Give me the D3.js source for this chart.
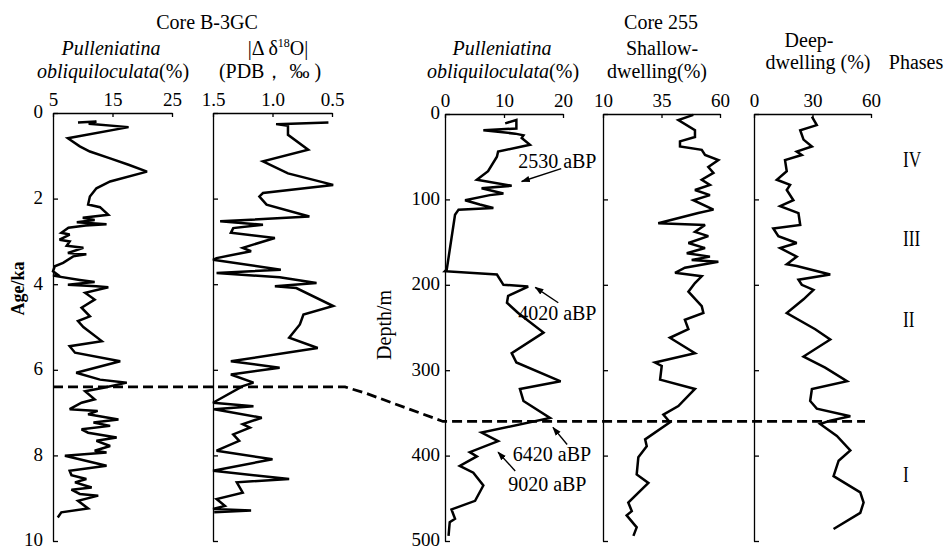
<!DOCTYPE html>
<html>
<head>
<meta charset="utf-8">
<script src="https://cdn.jsdelivr.net/npm/d3@7"></script>
<style>
    body { margin: 0; background: #fff; }
    svg { display: block; }
    text { font-family: 'Liberation Serif', 'Times New Roman', serif; fill: #000; }
</style>
</head>
<body>
<svg id="chart"></svg>
<script>
// Core B-3GC, Pulleniatina obliquiloculata (%) vs age (ka)
const b3PullAge = [0.22, 0.20, 0.25, 0.33, 0.59, 0.78, 0.90, 1.06, 1.21, 1.37, 1.60, 1.76, 1.95, 2.14, 2.20, 2.38, 2.45, 2.50, 2.55, 2.60, 2.63, 2.68, 2.80, 2.84, 2.96, 3.00, 3.10, 3.15, 3.27, 3.30, 3.35, 3.50, 3.58, 3.70, 3.78, 3.80, 3.90, 3.95, 4.01, 4.05, 4.07, 4.20, 4.36, 4.55, 4.75, 4.86, 5.00, 5.33, 5.45, 5.60, 5.80, 6.07, 6.23, 6.30, 6.42, 6.50, 6.69, 6.77, 6.92, 6.96, 7.04, 7.16, 7.23, 7.31, 7.39, 7.47, 7.58, 7.66, 7.78, 7.89, 7.93, 8.01, 8.24, 8.36, 8.46, 8.55, 8.63, 8.75, 8.80, 8.90, 8.94, 9.06, 9.24, 9.33, 9.45]
const b3Pull = [9.2, 12.3, 11.0, 17.7, 7.5, 9.5, 11.2, 14.6, 17.7, 20.8, 14.6, 12.3, 11.2, 10.9, 12.9, 14.3, 10.0, 12.0, 9.0, 14.0, 10.5, 7.6, 6.4, 7.8, 6.1, 7.8, 7.3, 10.1, 7.5, 10.6, 8.4, 6.7, 5.3, 5.0, 5.8, 5.0, 9.5, 12.0, 7.5, 12.3, 14.3, 10.4, 12.0, 9.8, 11.2, 9.2, 10.1, 13.2, 7.8, 8.7, 16.3, 8.9, 12.9, 17.4, 13.5, 10.4, 12.0, 9.8, 7.8, 12.5, 10.9, 16.0, 11.8, 14.6, 9.8, 10.9, 15.7, 12.3, 14.6, 12.0, 14.0, 7.0, 14.0, 7.8, 8.1, 10.6, 8.7, 11.5, 8.1, 9.5, 12.6, 9.2, 10.9, 6.4, 5.8]

// Core B-3GC, |Δδ18O| (PDB, ‰) vs age (ka)
const b3IsoAge = [0.22, 0.26, 0.30, 0.51, 0.86, 1.13, 1.41, 1.68, 1.87, 1.95, 2.14, 2.42, 2.53, 2.61, 2.69, 2.80, 2.92, 3.15, 3.23, 3.39, 3.43, 3.66, 3.74, 3.84, 3.97, 4.05, 4.09, 4.51, 4.71, 4.94, 5.25, 5.49, 5.80, 5.95, 6.11, 6.30, 6.38, 6.77, 6.85, 6.92, 7.12, 7.27, 7.35, 7.51, 7.66, 7.89, 8.09, 8.36, 8.55, 8.63, 8.87, 9.02, 9.18, 9.25, 9.29, 9.33]
const b3Iso = [0.53, 0.97, 0.87, 0.87, 0.70, 1.08, 0.87, 0.49, 1.08, 1.11, 1.05, 0.69, 1.44, 1.08, 1.33, 1.35, 0.98, 1.25, 1.18, 1.47, 1.50, 0.93, 1.47, 0.94, 0.63, 0.98, 0.80, 0.49, 0.74, 0.77, 0.86, 0.62, 1.35, 0.94, 1.35, 1.16, 1.25, 1.50, 1.16, 1.49, 1.09, 1.25, 1.19, 1.33, 1.28, 1.47, 1.00, 1.50, 0.86, 1.30, 1.25, 1.47, 1.40, 1.50, 1.18, 1.49]

// Core 255, Pulleniatina obliquiloculata (%) vs depth
const c255PullDepth = [11, 7, 17, 19, 23, 25, 28, 36, 44, 50, 67, 77, 84, 87, 93, 95, 101, 106, 110, 112, 118, 182, 184, 188, 200, 202, 213, 221, 233, 256, 280, 291, 313, 322, 336, 356, 373, 383, 396, 401, 412, 420, 435, 453, 463, 474, 478, 494]
const c255Pull = [10.2, 12.1, 12.1, 6.5, 11.9, 13.3, 13.0, 14.4, 9.0, 8.8, 7.3, 5.4, 11.3, 6.2, 9.9, 7.6, 3.4, 5.9, 8.2, 2.3, 1.7, 0.3, 0.0, 8.8, 9.9, 14.1, 10.7, 10.5, 12.4, 16.7, 11.3, 12.1, 19.6, 12.7, 13.3, 17.8, 6.2, 9.0, 4.2, 5.4, 2.5, 4.8, 6.5, 5.1, 1.1, 1.7, 0.8, 0.6]

// Core 255, shallow-dwelling (%) vs depth
const shallowDepth = [1, 7, 19, 27, 32, 38, 42, 48, 54, 62, 69, 77, 83, 89, 95, 101, 112, 116, 128, 130, 138, 143, 151, 157, 163, 167, 171, 173, 180, 186, 190, 198, 208, 225, 233, 241, 252, 262, 280, 291, 295, 311, 322, 342, 352, 361, 381, 389, 402, 422, 432, 455, 465, 470, 484, 494]
const shallow = [48.6, 42.2, 49.3, 49.3, 42.9, 42.9, 52.2, 53.6, 59.3, 55.0, 57.2, 52.2, 55.7, 49.3, 55.7, 48.6, 57.2, 50.7, 33.6, 53.6, 49.3, 55.0, 46.5, 53.6, 45.8, 55.7, 47.9, 59.3, 45.0, 40.8, 52.2, 49.3, 46.5, 52.2, 52.9, 45.0, 46.5, 38.6, 49.3, 32.2, 35.1, 34.4, 49.3, 42.2, 35.8, 38.6, 28.0, 28.7, 25.1, 24.4, 29.4, 20.8, 22.3, 20.1, 24.4, 23.0]

// Core 255, deep-dwelling (%) vs depth
const deepDepth = [3, 13, 19, 30, 38, 44, 48, 54, 67, 77, 83, 89, 101, 108, 116, 130, 134, 143, 151, 157, 167, 176, 178, 188, 194, 200, 206, 217, 233, 252, 264, 284, 297, 313, 322, 336, 345, 354, 359, 363, 377, 394, 406, 424, 443, 455, 467, 486]
const deep = [29.7, 32.2, 23.7, 25.4, 29.7, 21.9, 24.5, 15.9, 16.8, 11.7, 18.5, 16.8, 20.2, 13.4, 22.8, 23.7, 9.9, 12.5, 21.9, 13.4, 21.9, 16.8, 21.9, 39.1, 22.8, 24.5, 30.5, 25.4, 16.8, 31.4, 39.1, 25.4, 36.5, 47.7, 29.7, 28.8, 32.2, 49.4, 39.1, 33.9, 42.5, 49.4, 43.4, 40.8, 54.5, 56.2, 54.5, 40.8]

// tick labels
const ageTicks = [0, 2, 4, 6, 8, 10]
const depthTicks = [0, 100, 200, 300, 400, 500]
const b3PullTicks = [5, 15, 25]
const b3IsoTicks = [1.5, 1.0, 0.5]
const c255PullTicks = [0, 10, 20]
const shallowTicks = [10, 35, 60]
const deepTicks = [0, 30, 60]

// correlation level (6420 aBP) and dated levels in core 255
const tieAge = 6.4
const tieDepth = 360
const dateLabels = ['2530 aBP', '4020 aBP', '6420 aBP', '9020 aBP']
const dateText = [[12.4, 63], [12.4, 241], [11.5, 406], [10.7, 442]]
const dateArrowFrom = [[19.7, 64], [19.2, 221], [20.7, 387], [11.9, 418]]
const dateArrowTo = [[13.0, 79], [15.3, 203], [18.3, 367], [9.0, 396]]

const phaseLabels = ['IV', 'III', 'II', 'I']
const phaseDepth = [62, 154, 249, 431]

const W = 944
const H = 551
const SERIF = "'Liberation Serif', 'Times New Roman', serif"

const svg = d3.select('#chart')
    .attr('width', W)
    .attr('height', H)
    .attr('viewBox', `0 0 ${W} ${H}`)

svg.append('defs').append('marker')
    .attr('id', 'arrow')
    .attr('viewBox', '0 0 10 10')
    .attr('refX', 9).attr('refY', 5)
    .attr('markerWidth', 9).attr('markerHeight', 9)
    .attr('markerUnits', 'userSpaceOnUse')
    .attr('orient', 'auto')
    .append('path')
    .attr('d', 'M0,1.5L10,5L0,8.5Z')
    .attr('fill', '#000')

// scales
const ageY = d3.scaleLinear().domain([0, 10]).range([113, 541])
const depthY = d3.scaleLinear().domain([0, 500]).range([114, 541])
const xB3Pull = d3.scaleLinear().domain([5, 25]).range([53, 172])
const xB3Iso = d3.scaleLinear().domain([1.5, 0.5]).range([213, 332])
const x255Pull = d3.scaleLinear().domain([0, 20]).range([445, 563])
const xShallow = d3.scaleLinear().domain([10, 60]).range([603, 720])
const xDeep = d3.scaleLinear().domain([0, 60]).range([754, 871])

function styleAxis(g) {
    g.attr('font-family', SERIF).attr('font-size', 19)
    g.selectAll('path, line').attr('stroke', '#000').attr('stroke-width', 1.3)
    g.selectAll('text').attr('fill', '#000')
}

function panel(x, y, xTicks, xFormat, yTicks, yLabels, yPad) {
    svg.append('g')
        .attr('transform', `translate(0,${y.range()[0]})`)
        .call(d3.axisTop(x).tickValues(xTicks).tickFormat(d3.format(xFormat))
            .tickSizeInner(-4).tickSizeOuter(0).tickPadding(7))
        .call(styleAxis)

    const yAxis = d3.axisLeft(y).tickValues(yTicks).tickSizeInner(-5).tickSizeOuter(0).tickPadding(yPad)
    if (!yLabels) yAxis.tickFormat('')
    svg.append('g')
        .attr('transform', `translate(${x.range()[0]},0)`)
        .call(yAxis)
        .call(styleAxis)
        .call(g => g.selectAll('text').attr('dy', '0.26em'))
}

panel(xB3Pull, ageY, b3PullTicks, 'd', ageTicks, true, 10)
panel(xB3Iso, ageY, b3IsoTicks, '.1f', ageTicks, false, 8)
panel(x255Pull, depthY, c255PullTicks, 'd', depthTicks, true, 5)
panel(xShallow, depthY, shallowTicks, 'd', depthTicks, false, 5)
panel(xDeep, depthY, deepTicks, 'd', depthTicks, false, 5)

function curve(x, y, ys, xs) {
    const pts = ys.map((v, i) => [xs[i], v])
    svg.append('path')
        .datum(pts)
        .attr('fill', 'none')
        .attr('stroke', '#000')
        .attr('stroke-width', 2.5)
        .attr('stroke-linejoin', 'miter')
        .attr('stroke-miterlimit', 3)
        .attr('d', d3.line().x(d => x(d[0])).y(d => y(d[1])))
}

curve(xB3Pull, ageY, b3PullAge, b3Pull)
curve(xB3Iso, ageY, b3IsoAge, b3Iso)
curve(x255Pull, depthY, c255PullDepth, c255Pull)
curve(xShallow, depthY, shallowDepth, shallow)
curve(xDeep, depthY, deepDepth, deep)

// dashed correlation line
const tieLeft = ageY(tieAge)
const tieRight = depthY(tieDepth)
const slantStart = xB3Iso.range()[1] + 13
const slantEnd = x255Pull.range()[0] - 2
svg.append('path')
    .datum([
        [xB3Pull.range()[0], tieLeft],
        [slantStart, tieLeft],
        [slantStart + 20, tieLeft + 6],
        [slantEnd, tieRight],
        [xDeep.range()[1] - 6, tieRight]
    ])
    .attr('fill', 'none')
    .attr('stroke', '#000')
    .attr('stroke-width', 2.8)
    .attr('stroke-dasharray', '10,5')
    .attr('d', d3.line())

// date annotations
dateLabels.forEach((label, i) => {
    svg.append('text')
        .attr('x', x255Pull(dateText[i][0]))
        .attr('y', depthY(dateText[i][1]))
        .attr('font-size', 20)
        .text(label)
    svg.append('line')
        .attr('x1', x255Pull(dateArrowFrom[i][0]))
        .attr('y1', depthY(dateArrowFrom[i][1]))
        .attr('x2', x255Pull(dateArrowTo[i][0]))
        .attr('y2', depthY(dateArrowTo[i][1]))
        .attr('stroke', '#000')
        .attr('stroke-width', 1.4)
        .attr('marker-end', 'url(#arrow)')
})

// phases
phaseLabels.forEach((label, i) => {
    svg.append('text')
        .attr('transform', `translate(903,${depthY(phaseDepth[i])}) scale(0.75,1)`)
        .attr('font-size', 23)
        .text(label)
})

// headers
const header = (x, y, txt, opts = {}) => {
    const t = svg.append('text')
        .attr('x', x).attr('y', y)
        .attr('text-anchor', opts.anchor || 'middle')
        .attr('font-size', opts.size || 20)
    if (opts.italic) t.attr('font-style', 'italic')
    if (txt) t.text(txt)
    return t
}

header(207, 29, 'Core B-3GC')
header(111, 55, 'Pulleniatina', { italic: true })
const ob1 = header(113, 78, null)
ob1.append('tspan').attr('font-style', 'italic').text('obliquiloculata')
ob1.append('tspan').text('(%)')

const iso = header(278, 55, null)
iso.append('tspan').text('|Δ δ')
iso.append('tspan').attr('font-size', 12).attr('dy', -8).text('18')
iso.append('tspan').attr('dy', 8).text('O|')
header(270, 78, '(PDB， ‰ )')

header(502, 55, 'Pulleniatina', { italic: true })
const ob2 = header(503, 78, null)
ob2.append('tspan').attr('font-style', 'italic').text('obliquiloculata')
ob2.append('tspan').text('(%)')

header(661, 29, 'Core 255')
header(662, 55, 'Shallow-')
header(657, 78, 'dwelling(%)')
header(809, 47, 'Deep-')
header(818, 69, 'dwelling (%)')
header(916, 69, 'Phases')

// y-axis titles
svg.append('text')
    .attr('transform', `translate(24,${ageY(4.1)}) rotate(-90)`)
    .attr('text-anchor', 'middle')
    .attr('font-family', "'Liberation Sans', Arial, sans-serif")
    .attr('font-weight', 'bold')
    .attr('font-size', 18)
    .text('Age/ka')

svg.append('text')
    .attr('transform', `translate(391,${depthY(247)}) rotate(-90)`)
    .attr('text-anchor', 'middle')
    .attr('font-size', 20)
    .text('Depth/m')
</script>
</body>
</html>
